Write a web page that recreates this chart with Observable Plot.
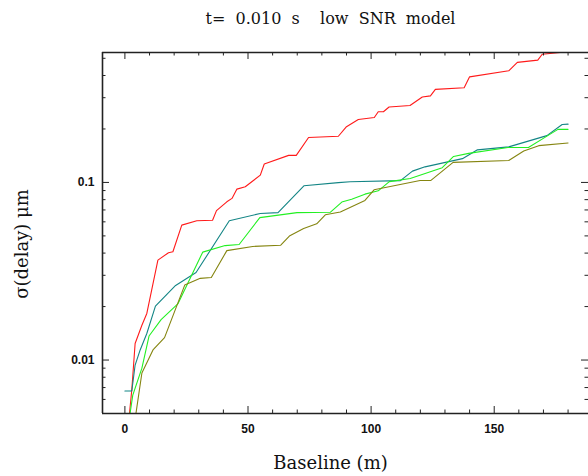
<!DOCTYPE html>
<html>
<head>
<meta charset="utf-8">
<script src="https://cdn.jsdelivr.net/npm/d3@7"></script>
<script src="https://cdn.jsdelivr.net/npm/@observablehq/plot@0.6"></script>
<style>
  html, body { margin: 0; padding: 0; background: #fff; }
</style>
</head>
<body>
<div id="chart"></div>
<script>
const title = "t=  0.010  s    low  SNR  model";
const xLabel = "Baseline (m)";
const yLabel = "σ(delay) μm";

const redX = [1.6, 2.8, 4.15, 6.9, 8.9, 13.4, 17.7, 19.5, 23.1, 29.2, 35.6, 37.2, 41.4, 43.5, 45.5, 48.9, 55.0, 56.6, 66.5, 69.6, 74.6, 86.7, 90.0, 94.8, 101.3, 102.9, 105.0, 107.3, 115.8, 120.8, 124.1, 126.1, 137.8, 140.0, 155.9, 159.4, 167.7, 169.5, 180];
const redY = [0.0046, 0.0068, 0.0124, 0.0157, 0.0183, 0.0365, 0.0402, 0.0407, 0.0575, 0.0608, 0.0613, 0.0694, 0.0778, 0.0813, 0.0917, 0.0945, 0.110, 0.127, 0.142, 0.142, 0.179, 0.182, 0.206, 0.226, 0.232, 0.250, 0.250, 0.266, 0.271, 0.303, 0.307, 0.334, 0.341, 0.393, 0.425, 0.474, 0.488, 0.527, 0.545];

const tealX = [0, 2.8, 4.15, 6.2, 8.9, 12.4, 20.6, 28.9, 42.4, 55.0, 62.2, 72.7, 86.7, 91.5, 111.9, 116.8, 121.9, 137.1, 143.2, 155.9, 171.4, 177.6, 180];
const tealY = [0.00669, 0.00669, 0.00937, 0.0114, 0.0141, 0.0201, 0.0263, 0.0311, 0.0608, 0.0669, 0.0676, 0.0957, 0.0997, 0.1008, 0.1024, 0.1158, 0.1224, 0.1361, 0.1526, 0.1586, 0.1834, 0.2121, 0.2129];

const greenX = [1.9, 3.2, 6.9, 9.8, 14.7, 21.6, 31.6, 40.7, 46.4, 54.8, 69.9, 83.4, 88.1, 92.1, 97.5, 102.9, 107.4, 115.9, 128.9, 133.5, 139.6, 155.6, 163.9, 171.6, 175.9, 180];
const greenY = [0.0048, 0.00635, 0.0090, 0.01365, 0.0169, 0.0208, 0.0405, 0.0441, 0.0447, 0.0634, 0.0676, 0.0679, 0.0775, 0.0805, 0.0859, 0.0897, 0.1010, 0.1053, 0.1211, 0.1401, 0.1457, 0.1574, 0.1574, 0.1829, 0.1990, 0.1990];

const oliveX = [4.1, 6.9, 11.5, 16.1, 24.3, 30.6, 35.1, 41.4, 51.9, 63.3, 66.8, 72.6, 77.9, 81.4, 87.5, 97.5, 101.2, 119.9, 124.3, 133.3, 155.9, 162.0, 168.1, 180];
const oliveY = [0.0046, 0.00845, 0.01146, 0.01338, 0.02642, 0.02883, 0.02913, 0.0413, 0.0436, 0.0443, 0.0499, 0.0551, 0.0585, 0.0657, 0.0681, 0.0792, 0.0909, 0.1026, 0.1027, 0.1297, 0.1330, 0.1504, 0.1611, 0.1668];

const seriesNames = ["red", "teal", "green", "olive"];
const seriesColors = ["#ff1a1a", "#138585", "#22f022", "#858510"];

const xDomain = [-9.1, 188.3];
const yDomain = [0.005, 0.539];
const xMajor = [0, 50, 100, 150];
const xMinor = [10, 20, 30, 40, 60, 70, 80, 90, 110, 120, 130, 140, 160, 170, 180];
const yMajor = [0.01, 0.1];
const yMajorLabels = ["0.01", "0.1"];
const yMinor = [0.005, 0.006, 0.007, 0.008, 0.009, 0.02, 0.03, 0.04, 0.05, 0.06, 0.07, 0.08, 0.09, 0.2, 0.3, 0.4, 0.5];

const seriesXs = [redX, tealX, greenX, oliveX];
const seriesYs = [redY, tealY, greenY, oliveY];
const rows = seriesNames.flatMap((s, i) => seriesXs[i].map((x, j) => ({series: s, x, y: seriesYs[i][j]})));

const W = 588, H = 476;
const mL = 102, mT = 52, mR = 0, mB = 63;
const pw = W - mL - mR, ph = H - mT - mB;
const majLen = 7, minLen = 3.5;

const lineMarks = seriesNames.map((s, i) =>
  Plot.line(rows.filter(r => r.series === s), {x: "x", y: "y", stroke: seriesColors[i], strokeWidth: 1.1, clip: true})
);

const chart = Plot.plot({
  width: W,
  height: H,
  marginLeft: mL,
  marginTop: mT,
  marginRight: mR,
  marginBottom: mB,
  style: {background: "#fff", overflow: "visible"},
  x: {domain: xDomain, axis: null},
  y: {type: "log", domain: yDomain, axis: null},
  marks: [
    ...lineMarks,
    // frame (left, top, bottom)
    Plot.ruleX([xDomain[0]], {stroke: "#222", strokeWidth: 1.6}),
    Plot.ruleY(yDomain, {stroke: "#222", strokeWidth: 1.6}),
    // x ticks bottom & top
    Plot.tickX(xMajor, {x: d => d, insetTop: ph - majLen, stroke: "#222"}),
    Plot.tickX(xMinor, {x: d => d, insetTop: ph - minLen, stroke: "#222"}),
    Plot.tickX(xMajor, {x: d => d, insetBottom: ph - majLen, stroke: "#222"}),
    Plot.tickX(xMinor, {x: d => d, insetBottom: ph - minLen, stroke: "#222"}),
    // y ticks left & right
    Plot.tickY(yMajor, {y: d => d, insetRight: pw - majLen, stroke: "#222"}),
    Plot.tickY(yMinor, {y: d => d, insetRight: pw - minLen, stroke: "#222"}),
    Plot.tickY(yMajor, {y: d => d, insetLeft: pw - majLen, stroke: "#222"}),
    Plot.tickY(yMinor, {y: d => d, insetLeft: pw - minLen, stroke: "#222"}),
    // tick labels
    Plot.text(xMajor, {x: d => d, text: d => String(d), frameAnchor: "bottom", dy: 16, lineAnchor: "middle",
      fontFamily: "Liberation Sans", fontWeight: "bold", fontSize: 12, fill: "#111"}),
    Plot.text(yMajor, {y: d => d, text: (d, i) => yMajorLabels[i], frameAnchor: "left", dx: -8, textAnchor: "end", lineAnchor: "middle",
      fontFamily: "Liberation Sans", fontWeight: "bold", fontSize: 12, fill: "#111"}),
    // titles
    Plot.text([title], {frameAnchor: "top-left", dx: 228, dy: -34, textAnchor: "middle", lineAnchor: "middle",
      fontFamily: "DejaVu Serif", fontSize: 16, fill: "#111"}),
    Plot.text([xLabel], {frameAnchor: "bottom-left", dx: 228, dy: 50, textAnchor: "middle", lineAnchor: "middle",
      fontFamily: "DejaVu Serif", fontSize: 18, fill: "#111"}),
    Plot.text([yLabel], {frameAnchor: "left", dx: -80, dy: 11, rotate: -90, textAnchor: "middle", lineAnchor: "middle",
      fontFamily: "DejaVu Serif", fontSize: 18, fill: "#111"})
  ]
});
document.getElementById("chart").appendChild(chart);
</script>
</body>
</html>
